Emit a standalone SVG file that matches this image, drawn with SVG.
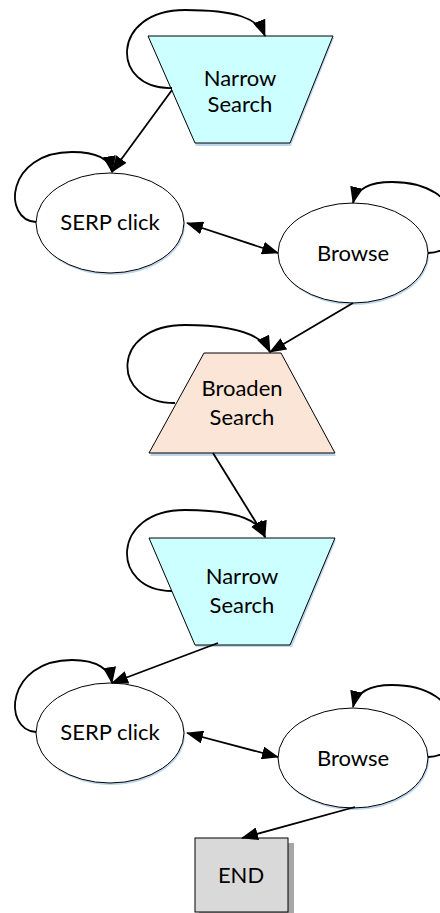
<svg xmlns="http://www.w3.org/2000/svg" width="440" height="913" viewBox="0 0 440 913">
  <style>
    .shape { stroke: #000; stroke-width: 1; }
    .shadow { fill: #bdd7ee; stroke: none; }
    .narrow { fill: #ccffff; }
    .broaden { fill: #fbe5d6; }
    .state { fill: #ffffff; }
    .endbox { fill: #d9d9d9; }
    .label { font-family: Lato, "Liberation Sans", sans-serif; font-size: 22px; fill: #000; text-anchor: middle; }
    .edge { fill: none; stroke: #000; stroke-width: 1.8; marker-end: url(#head); }
    .both { marker-start: url(#head); }
  </style>
  <defs>
    <marker id="head" markerUnits="userSpaceOnUse" markerWidth="17" markerHeight="13" refX="16" refY="6.5" orient="auto-start-reverse">
      <path d="M0,0 L17,6.5 L0,13 Z" fill="#000"/>
    </marker>
  </defs>

  <rect width="440" height="913" fill="#ffffff"/>

  <!-- first narrowing step -->
  <g id="narrow1">
    <polygon class="shadow" points="149,38 334,38 291,146 196,146"/>
    <polygon class="shape narrow" points="148,36 333,36 290,143 195,143"/>
    <text class="label" x="240" y="86">Narrow</text>
    <text class="label" x="240" y="112">Search</text>
  </g>

  <g id="serp1">
    <ellipse class="shadow" cx="111" cy="225" rx="74" ry="50"/>
    <ellipse class="shape state" cx="110" cy="223" rx="74" ry="50"/>
    <text class="label" x="110" y="230">SERP click</text>
  </g>

  <g id="browse1">
    <ellipse class="shadow" cx="354" cy="255" rx="75" ry="50"/>
    <ellipse class="shape state" cx="353" cy="253" rx="75" ry="50"/>
    <text class="label" x="353" y="261">Browse</text>
  </g>

  <g id="broaden">
    <polygon class="shadow" points="205,355 282,355 336,456 150,456"/>
    <polygon class="shape broaden" points="204,353 281,353 335,453 149,453"/>
    <text class="label" x="242" y="396">Broaden</text>
    <text class="label" x="242" y="425">Search</text>
  </g>

  <!-- second narrowing step -->
  <g id="narrow2">
    <polygon class="shadow" points="150,540 336,540 292,647 196,647"/>
    <polygon class="shape narrow" points="149,538 335,538 290,645 195,645"/>
    <text class="label" x="242" y="584">Narrow</text>
    <text class="label" x="242" y="613">Search</text>
  </g>

  <g id="serp2">
    <ellipse class="shadow" cx="111" cy="735" rx="74" ry="50"/>
    <ellipse class="shape state" cx="110" cy="733" rx="74" ry="50"/>
    <text class="label" x="110" y="740">SERP click</text>
  </g>

  <g id="browse2">
    <ellipse class="shadow" cx="354" cy="760" rx="75" ry="50"/>
    <ellipse class="shape state" cx="353" cy="758" rx="75" ry="50"/>
    <text class="label" x="353" y="766">Browse</text>
  </g>

  <g id="end">
    <rect x="199" y="843" width="95" height="70" fill="#a6a6a6"/>
    <rect class="shape endbox" x="195" y="838" width="93" height="74"/>
    <text class="label" x="241" y="883">END</text>
  </g>

  <g id="connectors">
    <!-- self loops -->
    <path class="edge" d="M172,88 C110,90 110,10 185,10 C235,10 258,18 265,36"/>
    <path class="edge" d="M36,222 C2,220 6,152 72,152 C98,152 110,160 112,172"/>
    <path class="edge" d="M428,253 C470,253 468,182 392,182 C368,182 356,190 353,203"/>
    <path class="edge" d="M175,403 C110,403 110,325 185,325 C237,325 262,335 270,352"/>
    <path class="edge" d="M172,591 C110,591 110,510 185,510 C237,510 260,520 265,537"/>
    <path class="edge" d="M36,732 C2,730 6,660 72,660 C98,660 110,670 112,683"/>
    <path class="edge" d="M428,757 C470,757 468,685 392,685 C368,685 356,694 353,707"/>

    <!-- transitions -->
    <path class="edge" d="M172,90 L112,172"/>
    <path class="edge both" d="M187,223 L278,253"/>
    <path class="edge" d="M353,303 L270,352"/>
    <path class="edge" d="M213,453 L265,537"/>
    <path class="edge" d="M218,643 L112,683"/>
    <path class="edge both" d="M187,733 L278,757"/>
    <path class="edge" d="M355,807 L242,838"/>
  </g>
</svg>
